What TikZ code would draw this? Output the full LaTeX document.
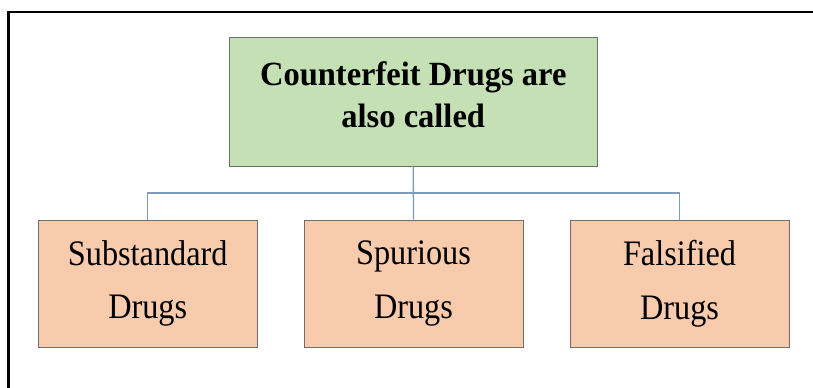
\documentclass[tikz,border=0pt]{standalone}
\usepackage{fontspec}
\setmainfont{Liberation Serif}
\newfontfamily\titlefont[FakeStretch=0.96]{Liberation Serif}
\newfontfamily\boxfont[FakeStretch=0.9]{Liberation Serif}
\definecolor{topfill}{HTML}{C5E0B4}
\definecolor{subfill}{HTML}{F8CBAD}
\definecolor{boxline}{HTML}{6E6E6E}
\definecolor{linkline}{HTML}{7F9BB8}
\tikzset{
  topbox/.style={draw=boxline, line width=1bp, fill=topfill, minimum width=367.5bp, minimum height=128.5bp,
    inner sep=0pt, align=center, text depth=15bp, font=\titlefont\bfseries\fontsize{34}{42}\selectfont},
  subbox/.style={draw=boxline, line width=1bp, fill=subfill, minimum width=219bp, minimum height=127bp,
    inner sep=0pt, align=center, font=\boxfont\fontsize{36}{54}\selectfont},
  link/.style={draw=linkline, line width=1.3bp}
}
\begin{document}
\begin{tikzpicture}[x=1bp, y=-1bp]
\useasboundingbox (0,0) rectangle (813,387);
\clip (0,0) rectangle (813,387);
\fill[white] (0,0) rectangle (813,387);
\draw[line width=2.5bp, black] (8.7,12.2) rectangle (840,420);
\node[topbox] (top) at (413.25,101.75) {Counterfeit Drugs are\\also called};
\node[subbox] (b1) at (147.75,283.5) {Substandard\\Drugs};
\node[subbox] (b2) at (413.5,283.5) {Spurious\\Drugs};
\node[subbox] (b3) at (679.5,283.5) {Falsified\\Drugs};
\coordinate (bus) at (413,193);
\draw[link] (top.south) -- (b2.north);
\draw[link] (b1.north) |- (bus) -| (b3.north);
\end{tikzpicture}
\end{document}
